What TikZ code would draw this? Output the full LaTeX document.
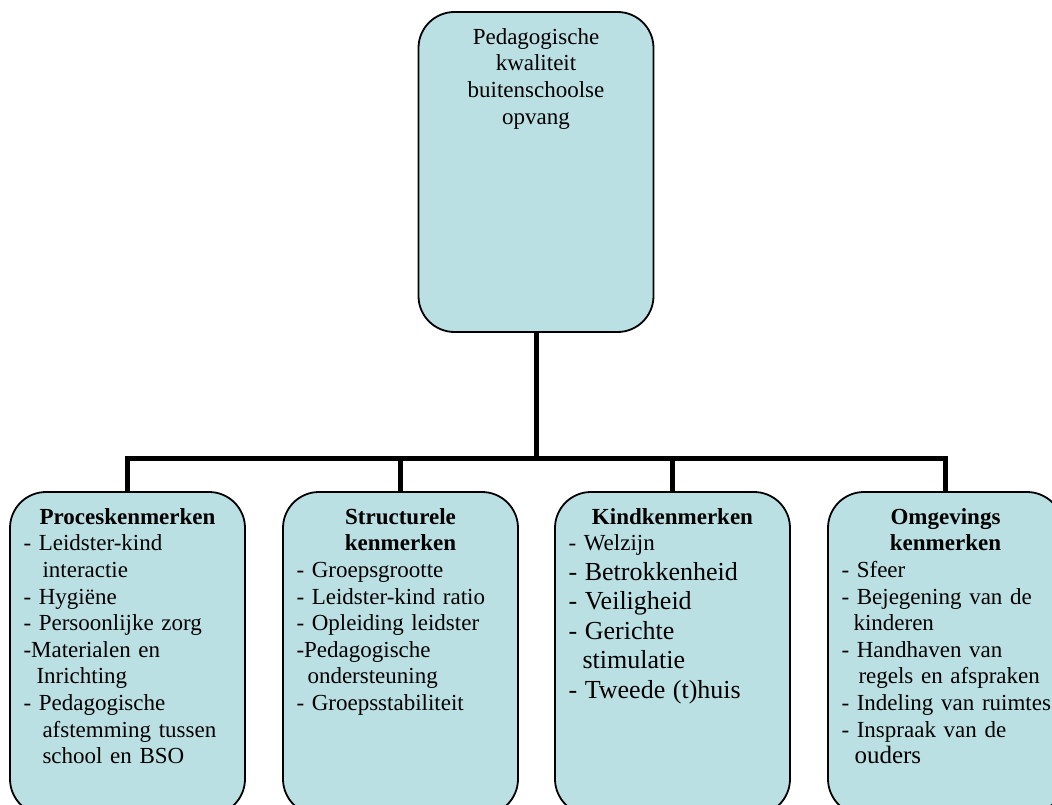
\documentclass[tikz,border=0pt]{standalone}
\usepackage{fontspec}
\setmainfont{Liberation Serif}
\usepackage{tikz}
\usetikzlibrary{positioning,calc}

\definecolor{boxfill}{RGB}{187,224,227}
\newcommand{\bodyfont}{\fontsize{23}{26.6}\selectfont}
\newcommand{\bigfont}{\fontsize{26}{29.5}\selectfont}

\begin{document}
\begin{tikzpicture}[x=1pt,y=-1pt,
	box/.style={draw,line width=1.8pt,fill=boxfill,rounded corners=36pt,minimum width=235pt,inner sep=0pt},
	lower/.style={box,minimum height=323pt},
	boxtext/.style={inner sep=0pt,anchor=north,text width=208pt,align=left,font=\bodyfont},
	conn/.style={line width=5pt,miter limit=4}]

	\useasboundingbox (0,0) rectangle (1052,805);
	\clip (0,0) rectangle (1052,805);

	% top box
	\node[box,minimum height=320pt] (top) at (536,172) {};
	\node[inner sep=0pt,anchor=north,align=center,font=\bodyfont] (toptext) [below=17pt of top.north]
		{Pedagogische\\kwaliteit\\buitenschoolse\\opvang};

	% lower boxes
	\node[lower] (p1) at (127.5,653.5) {};
	\node[lower] (p2) at (400.5,653.5) {};
	\node[lower] (p3) at (672.5,653.5) {};
	\node[lower] (p4) at (945.5,653.5) {};

	\node[boxtext] (p1text) [below=17pt of p1.north] {%
		{\centering\bfseries Proceskenmerken\par}
		- Leidster-kind\\
		\hspace*{19pt}interactie\\
		- Hygiëne\\
		- Persoonlijke zorg\\
		-Materialen en\\
		\hspace*{13pt}Inrichting\\
		- Pedagogische\\
		\hspace*{19pt}afstemming tussen\\
		\hspace*{19pt}school en BSO};
	\node[boxtext] (p2text) [below=17pt of p2.north] {%
		{\centering\bfseries Structurele\\kenmerken\par}
		- Groepsgrootte\\
		- Leidster-kind ratio\\
		- Opleiding leidster\\
		-Pedagogische\\
		\hspace*{11pt}ondersteuning\\
		- Groepsstabiliteit};
	\node[boxtext] (p3text) [below=17pt of p3.north] {%
		{\centering\bfseries Kindkenmerken\par}
		- Welzijn\par
		{\bigfont - Betrokkenheid\\
		- Veiligheid\\
		- Gerichte\\
		\hspace*{14pt}stimulatie\\
		- Tweede (t)huis\par}};
	\node[boxtext] (p4text) [below=17pt of p4.north] {%
		{\centering\bfseries Omgevings\\kenmerken\par}
		- Sfeer\\
		\mbox{- Bejegening van de}\\
		\hspace*{12pt}kinderen\\
		- Handhaven van\\
		\hspace*{17pt}\mbox{regels en afspraken}\\
		\mbox{- Indeling van ruimtes}\\
		- Inspraak van de\\
		\hspace*{13pt}{\fontsize{25}{26.6}\selectfont ouders}};

	% connectors
	\coordinate (hub) at (537,458);
	\draw[conn] (top.south) -- (top.south |- hub);
	\draw[conn] (p1.north) -- (p1.north |- hub) -- (p4.north |- hub) -- (p4.north);
	\foreach \b in {p2,p3}
		\draw[conn] (\b.north |- hub) -- (\b.north);

\end{tikzpicture}
\end{document}
